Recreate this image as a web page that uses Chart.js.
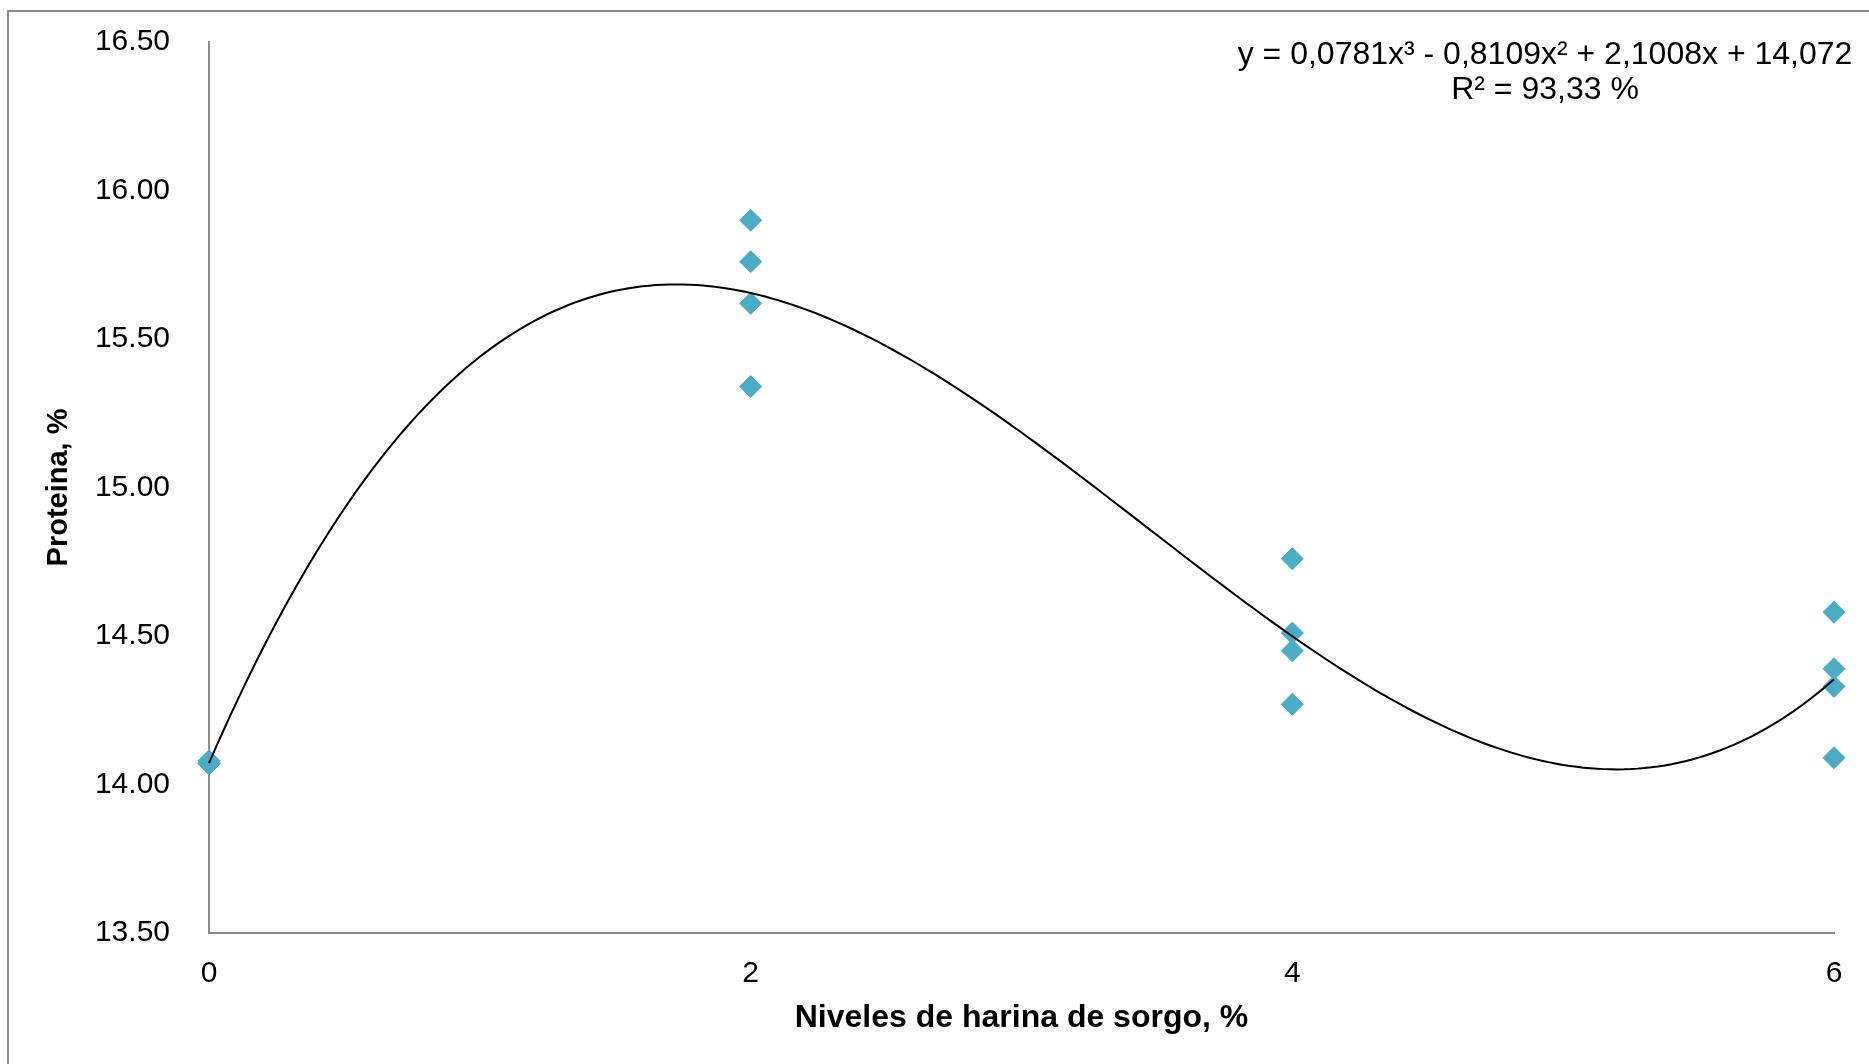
<!DOCTYPE html>
<html lang="es">
<head>
<meta charset="utf-8">
<title>Proteina vs niveles de harina de sorgo</title>
<script src="https://cdn.jsdelivr.net/npm/chart.js@4.4.1/dist/chart.umd.min.js"></script>
<style>
    html, body { margin: 0; padding: 0; background: #fff; }
    #wrap { position: relative; width: 1869px; height: 1064px; }
</style>
</head>
<body>
<div id="wrap"><canvas id="chart"></canvas></div>
<script>
// Niveles de harina de sorgo (%) y proteína medida en cada repetición
const niveles = [0, 2, 4, 6];
const proteinaNivel0 = [14.07, 14.07, 14.08, 14.07];
const proteinaNivel2 = [15.90, 15.76, 15.62, 15.34];
const proteinaNivel4 = [14.76, 14.51, 14.45, 14.27];
const proteinaNivel6 = [14.58, 14.39, 14.33, 14.09];

// Tendencia polinómica de orden 3: c0 + c1*x + c2*x^2 + c3*x^3
const coefTendencia = [14.072, 2.1008, -0.8109, 0.0781];
const r2Tendencia = 93.33;

const yMin = 13.5;
const yMax = 16.5;
const yPaso = 0.5;

const FONT = "'Liberation Sans', Arial, sans-serif";
const GRIS = '#8c8c8c';
const AZUL = '#4bacc6';

const puntos = [];
[proteinaNivel0, proteinaNivel2, proteinaNivel4, proteinaNivel6].forEach((serie, i) => {
    serie.forEach((v) => puntos.push({ x: niveles[i], y: v }));
});

const evalTendencia = (x) => coefTendencia.reduce((acc, c, k) => acc + c * Math.pow(x, k), 0);

// Curva de tendencia muestreada a lo largo del eje x
const curva = [];
for (let i = 0; i <= 240; i++) {
    const x = niveles[0] + (niveles[niveles.length - 1] - niveles[0]) * i / 240;
    curva.push({ x, y: evalTendencia(x) });
}

const coma = (v) => String(v).replace('.', ',');
const [c0, c1, c2, c3] = coefTendencia;
const textoEcuacion = `y = ${coma(c3)}x³ ${c2 < 0 ? '-' : '+'} ${coma(Math.abs(c2))}x² ${c1 < 0 ? '-' : '+'} ${coma(Math.abs(c1))}x + ${coma(c0)}`;
const textoR2 = `R² = ${coma(r2Tendencia.toFixed(2))} %`;

/**
 * Marco exterior y ecuación de la tendencia.
 */
const decoracion = {
    id: 'decoracion',
    beforeDraw(chart) {
        const { ctx } = chart;
        ctx.save();
        ctx.strokeStyle = GRIS;
        ctx.lineWidth = 2;
        ctx.beginPath();
        ctx.moveTo(8, chart.height);
        ctx.lineTo(8, 11);
        ctx.lineTo(chart.width, 11);
        ctx.stroke();
        ctx.restore();
    },
    afterDraw(chart) {
        const { ctx, chartArea } = chart;
        const cx = chartArea.right - 289;
        ctx.save();
        ctx.fillStyle = '#000';
        ctx.font = `32px ${FONT}`;
        ctx.textAlign = 'center';
        ctx.textBaseline = 'middle';
        ctx.fillText(textoEcuacion, cx, 55);
        ctx.fillText(textoR2, cx, 90);
        ctx.restore();
    }
};

new Chart(document.getElementById('chart'), {
    type: 'scatter',
    data: {
        datasets: [
            {
                label: 'Tendencia',
                data: curva,
                showLine: true,
                borderColor: '#000',
                borderWidth: 2,
                pointRadius: 0,
                tension: 0,
                order: 0,
                clip: false
            },
            {
                label: 'Proteina',
                data: puntos,
                pointStyle: 'rectRot',
                pointRadius: 11,
                pointHoverRadius: 11,
                backgroundColor: AZUL,
                borderColor: AZUL,
                borderWidth: 1,
                order: 1,
                clip: false
            }
        ]
    },
    options: {
        responsive: true,
        maintainAspectRatio: false,
        animation: false,
        layout: { padding: { top: 42, right: 35, left: 0, bottom: 0 } },
        plugins: {
            legend: { display: false },
            tooltip: { enabled: false }
        },
        scales: {
            x: {
                type: 'linear',
                min: niveles[0],
                max: niveles[niveles.length - 1],
                afterFit: (s) => {
                    s.height = 131;
                    s.paddingLeft = 0;
                    s.paddingRight = 0;
                },
                ticks: {
                    stepSize: 2,
                    padding: 23,
                    color: '#000',
                    font: { family: FONT, size: 30 }
                },
                grid: { display: false, drawTicks: false },
                border: { display: true, color: GRIS, width: 2 },
                title: {
                    display: true,
                    text: 'Niveles de harina de sorgo, %',
                    color: '#000',
                    font: { family: FONT, size: 32, weight: 'bold' },
                    padding: { top: 0, bottom: 27 }
                }
            },
            y: {
                min: yMin,
                max: yMax,
                afterFit: (s) => {
                    s.width = 209;
                    s.paddingTop = 0;
                    s.paddingBottom = 0;
                },
                ticks: {
                    stepSize: yPaso,
                    padding: 39,
                    color: '#000',
                    font: { family: FONT, size: 30 },
                    callback: (v) => Number(v).toFixed(2)
                },
                grid: { display: false, drawTicks: false },
                border: { display: true, color: GRIS, width: 2 },
                title: {
                    display: true,
                    text: 'Proteina, %',
                    color: '#000',
                    font: { family: FONT, size: 29, weight: 'bold' },
                    padding: { top: 42, bottom: 0 }
                }
            }
        }
    },
    plugins: [decoracion]
});
</script>
</body>
</html>
